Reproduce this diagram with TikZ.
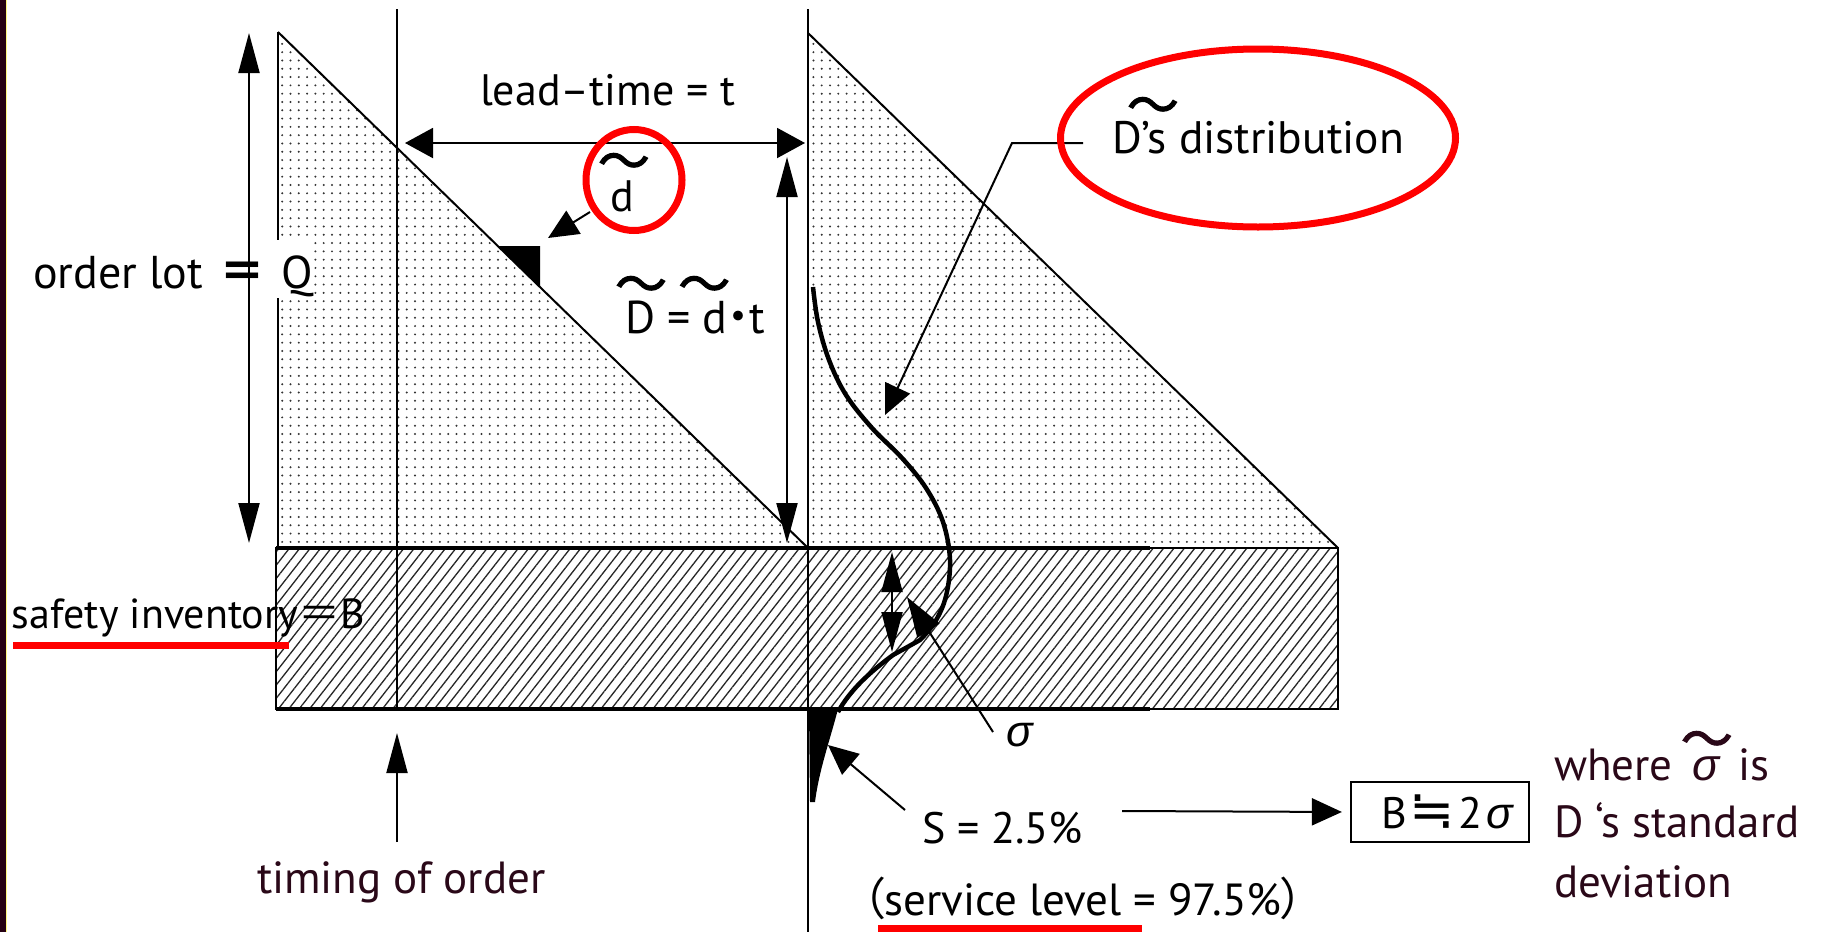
\documentclass[tikz,border=0pt]{standalone}
\usepackage{fontspec}
\setmainfont{PT Sans}
\newfontfamily\jp{Noto Sans CJK JP}
\newfontfamily\jpt[FakeBold=2]{Noto Sans CJK JP}
\newfontfamily\jpp[RawFeature=+palt]{Noto Sans CJK JP}
\newfontfamily\grk{Liberation Sans}
\newfontfamily\dv{DejaVu Sans}
\usetikzlibrary{arrows.meta,patterns.meta,shapes.geometric}
\definecolor{maroonT}{RGB}{42,8,24}
\definecolor{stripC}{RGB}{38,0,18}
% letter with a wide tilde above it: #1 = horizontal kern (twice the shift), #2 = raise, #3 = letter
\newcommand{\tilover}[3]{\ooalign{#3\cr\hidewidth\kern#1\raisebox{#2}{\jpt\fontsize{52}{52}\selectfont ～}\hidewidth\cr}}
\begin{document}
\begin{tikzpicture}[x=1pt,y=-1pt,
  lbl/.style={inner sep=0pt, outer sep=0pt, font=\fontsize{44}{52}\selectfont},
  bighead/.style={-{Triangle[length=40pt,width=21pt]}},
  bigboth/.style={{Triangle[length=40pt,width=21pt]}-{Triangle[length=40pt,width=21pt]}},
  midhead/.style={-{Triangle[length=30pt,width=27pt]}},
  midboth/.style={{Triangle[length=28pt,width=30pt]}-{Triangle[length=28pt,width=30pt]}},
  shaft/.style={line width=2pt},
  frameline/.style={line width=2pt},
  redring/.style={draw=red, line width=7pt, ellipse, inner sep=0pt},
  redbar/.style={draw=red, line width=7pt},
]
\useasboundingbox (0,0) rectangle (1835,932);
\fill[white] (0,0) rectangle (1835,932);
\fill[stripC] (0,0) rectangle (6,932);
\draw[yellow!50!white, line width=1pt] (6.5,0) -- (6.5,932);

% safety inventory band (hatched)
\fill[pattern={Lines[angle=52,distance=8.2pt,line width=1.3pt]}, pattern color=black!85] (276,548) rectangle (1338,709);
% dotted triangles
\fill[pattern={Dots[radius=1.1pt,distance=8.3pt]}, pattern color=black!80] (278,32) -- (278,548) -- (808,548) -- cycle;
\fill[pattern={Dots[radius=1.1pt,distance=8.3pt]}, pattern color=black!80] (808,33) -- (808,548) -- (1338,548) -- cycle;
\draw[line width=2.6pt] (278,32) -- (278,548);
\draw[frameline] (278,32) -- (808,548);
\draw[frameline] (808,33) -- (1338,548);
\draw[frameline] (276,548) rectangle (1338,709);
\draw[line width=3.5pt] (276,548) -- (1150,548);
\draw[line width=3.5pt] (276,709) -- (1150,709);
% vertical lines
\draw[frameline] (397,9) -- (397,709);
\draw[frameline] (808,9) -- (808,932);
% white patch behind Q
\fill[white] (270,240) rectangle (314,298);
% slope triangle
\fill (498,246) -- (540,246) -- (540,287) -- cycle;

% demand distribution curve
\draw[line width=4.5pt, line join=round]
  plot[smooth, tension=0.6] coordinates {(813,287) (818,322) (829,360) (846,395) (872,428) (902,458) (926,488) (943,522) (950,560) (946,596) (935,622) (920,640)}
  -- (893,655) .. controls (870,672) and (850,690) .. (838,712);
\fill (809,709) -- (838,709) .. controls (830,740) and (819,770) .. (815,802) -- (810,802) -- cycle;

% coordinates for connectors
\coordinate (olTop) at (249,33);
\coordinate (olBot) at (249,543);
\coordinate (ltL) at (405,143);
\coordinate (ltR) at (805,143);
\coordinate (DTop) at (787,157);
\coordinate (DBot) at (787,543);
\coordinate (dFrom) at (590,212);
\coordinate (dTip) at (548,238);
\coordinate (ldrA) at (1083,143);
\coordinate (ldrB) at (1012,143);
\coordinate (ldrTip) at (885,415);
\coordinate (spTop) at (892,552);
\coordinate (spBot) at (892,652);
\coordinate (sgTail) at (993,732);
\coordinate (sgTip) at (907,597);
\coordinate (sTail) at (905,810);
\coordinate (sTip) at (828,745);
\coordinate (sOut) at (1122,811);
\coordinate (tmTail) at (397,842);
\coordinate (tmTip) at (397,733);

% arrows
\draw[shaft, bigboth] (olTop) -- (olBot);
\draw[shaft, midboth] (ltL) -- (ltR);
\draw[shaft, bigboth] (DTop) -- (DBot);
\draw[shaft, midhead] (dFrom) -- (dTip);
\draw[shaft, midhead] (ldrA) -- (ldrB) -- (ldrTip);
\draw[shaft, bigboth] (spTop) -- (spBot);
\draw[shaft, -{Triangle[length=40pt,width=26pt]}] (sgTail) -- (sgTip);
\draw[shaft, midhead] (sTail) -- (sTip);
\draw[shaft, bighead] (tmTail) -- (tmTip);

% red rings
\node[redring, minimum width=96pt, minimum height=101pt] (dRing) at (634,180) {};
\node[redring, minimum width=395pt, minimum height=178pt] (distRing) at (1258,138) {};

% texts
\node[lbl, anchor=base west] (leadtime) at (480,105) {lead–time = t};
\node[lbl, anchor=base west] (dChar) at (610,211) {\tilover{4pt}{31pt}{d}};
\node[lbl, anchor=base west, font=\fontsize{46}{52}\selectfont] (Dform) at (625,333) {\tilover{2pt}{30pt}{D} = \tilover{-22pt}{30pt}{d}{\jp\kern-12pt ・\kern-12pt}t};
\node[lbl, anchor=base west, font=\fontsize{45.5}{52}\selectfont] (distText) at (1112,153) {\tilover{52pt}{29pt}{D}’s distribution};
\node[lbl, anchor=base west, font=\fontsize{46}{52}\selectfont] (orderLot) at (33,288) {order lot\hspace{16pt}{\jp\bfseries ＝}\hspace{16pt}Q};
\node[lbl, anchor=base west, font=\fontsize{42}{48}\selectfont] (safety) at (12,628) {safety inventory{\jp ＝}B};
\draw[redbar] (13,645) -- (289,645);
\node[lbl, font=\grk\itshape\fontsize{44}{52}\selectfont] (sigLbl) at (1020,735) {σ};
\node[lbl, anchor=base west] (sLbl) at (922,843) {S = 2.5\%};
\node[lbl, anchor=base west, font=\fontsize{45}{52}\selectfont] (service) at (862,915) {{\jpp （}service level = 97.5\%{\jpp ）}};
\draw[redbar] (878,928) -- (1142,928);
\node[lbl, anchor=base west, text=maroonT, font=\fontsize{45}{52}\selectfont] (timing) at (257,893) {timing of order};
\node[draw, line width=2.2pt, minimum width=178pt, minimum height=60pt, inner sep=0pt, font=\fontsize{44}{52}\selectfont] (bBox) at (1440,812) {\hspace*{14pt}B\kern3pt{\dv\fontsize{54}{54}\selectfont ≒}\kern3pt 2\kern4pt{\grk\itshape σ}};
\draw[shaft, midhead, shorten >=8pt] (sOut) -- (bBox.west);
\node[lbl, anchor=base west, text=maroonT, font=\fontsize{45}{52}\selectfont] (where1) at (1554,780) {where \,\tilover{2pt}{22pt}{\grk\itshape σ}\, is};
\node[lbl, anchor=base west, text=maroonT, font=\fontsize{45}{52}\selectfont] (where2) at (1554,837) {D ‘s standard};
\node[lbl, anchor=base west, text=maroonT, font=\fontsize{45}{52}\selectfont] (where3) at (1554,897) {deviation};
\end{tikzpicture}
\end{document}
